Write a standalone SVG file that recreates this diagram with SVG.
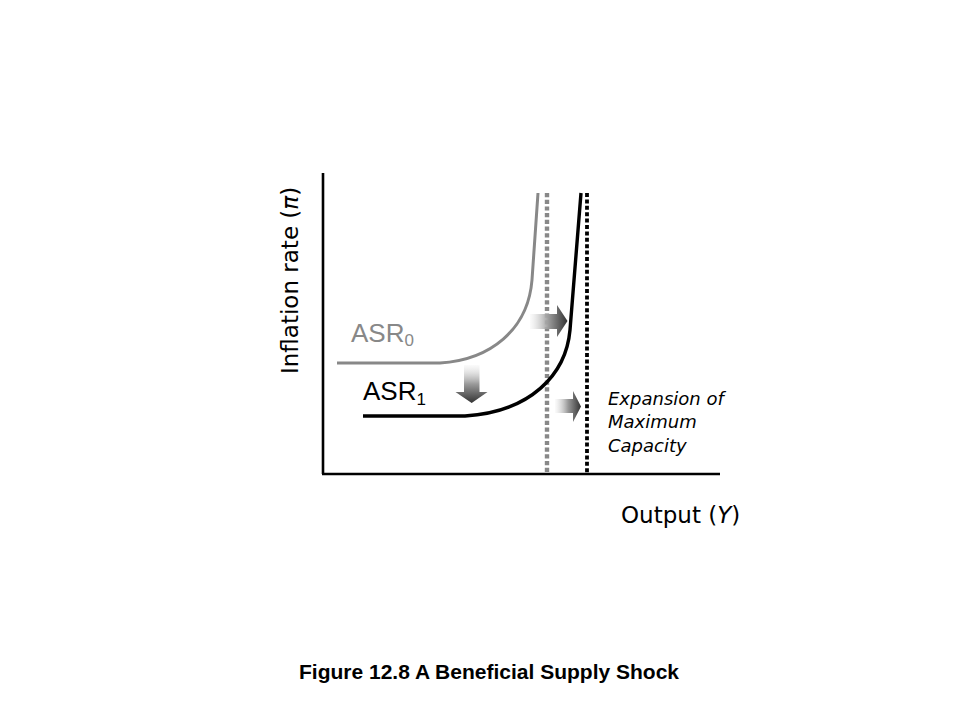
<svg xmlns="http://www.w3.org/2000/svg" width="960" height="720" viewBox="0 0 960 720">
<style>
.axis{stroke:#000;stroke-width:2.6;fill:none}
.lbl{font-family:"DejaVu Sans",Verdana,sans-serif;fill:#000}
.asr{font-family:"Liberation Sans",Arial,sans-serif;font-size:26px}
.sub{font-size:17px}
.note{font-family:"DejaVu Sans",Verdana,sans-serif;font-style:italic;font-size:18px;fill:#000}
.title{font-family:"Liberation Sans",Arial,sans-serif;font-weight:bold;font-size:21px;fill:#000}
</style>
<defs>
<linearGradient id="gr" x1="0" y1="0" x2="1" y2="0">
<stop offset="0" stop-color="#f4f4f4" stop-opacity="0.4"/>
<stop offset="0.5" stop-color="#9a9a9a"/>
<stop offset="1" stop-color="#333"/>
</linearGradient>
<linearGradient id="gd" x1="0" y1="0" x2="0" y2="1">
<stop offset="0" stop-color="#f4f4f4" stop-opacity="0.4"/>
<stop offset="0.5" stop-color="#9a9a9a"/>
<stop offset="1" stop-color="#333"/>
</linearGradient>
</defs>
<rect width="960" height="720" fill="#fff"/>
<g id="axes">
<line class="axis" x1="323" y1="173" x2="323" y2="474"/>
<line class="axis" x1="322" y1="474" x2="720" y2="474"/>
</g>
<g id="capacity-lines">
<line x1="547" y1="193" x2="547" y2="473" stroke="#888" stroke-width="4.4" stroke-dasharray="4.2 2.5"/>
<line x1="587" y1="193" x2="587" y2="473" stroke="#000" stroke-width="3.8" stroke-dasharray="4 2.4"/>
</g>
<g id="asr0">
<path d="M337,363 L440,363 C490,360 528,330 532,280 L538,193" fill="none" stroke="#888" stroke-width="3"/>
<text class="asr" x="351" y="342" fill="#888">ASR<tspan class="sub" dy="4">0</tspan></text>
</g>
<g id="asr1">
<path d="M363,416 L465,416 C530,412 566,375 570,330 L581,193" fill="none" stroke="#000" stroke-width="3.4"/>
<text class="asr" x="363" y="400" fill="#000">ASR<tspan class="sub" dy="5">1</tspan></text>
</g>
<g id="arrows">
<polygon points="530,314 557,314 557,305 567.5,321 557,337 557,329 530,329" fill="url(#gr)"/>
<polygon points="555,399 573,399 573,391 581,406.5 573,422 573,413 555,413" fill="url(#gr)"/>
<polygon points="464,365 479.5,365 479.5,392 487.5,392 471.7,403 455.5,392 464,392" fill="url(#gd)"/>
</g>
<g id="labels">
<text class="lbl" font-size="23" transform="translate(298,374) rotate(-90)">Inflation rate (<tspan font-style="italic">π</tspan>)</text>
<text class="lbl" font-size="23" x="621" y="523">Output (<tspan font-style="italic">Y</tspan>)</text>
<text class="note" x="608" y="405">Expansion of</text>
<text class="note" x="608" y="428">Maximum</text>
<text class="note" x="608" y="452">Capacity</text>
<text class="title" x="489" y="679" text-anchor="middle">Figure 12.8 A Beneficial Supply Shock</text>
</g>
</svg>
